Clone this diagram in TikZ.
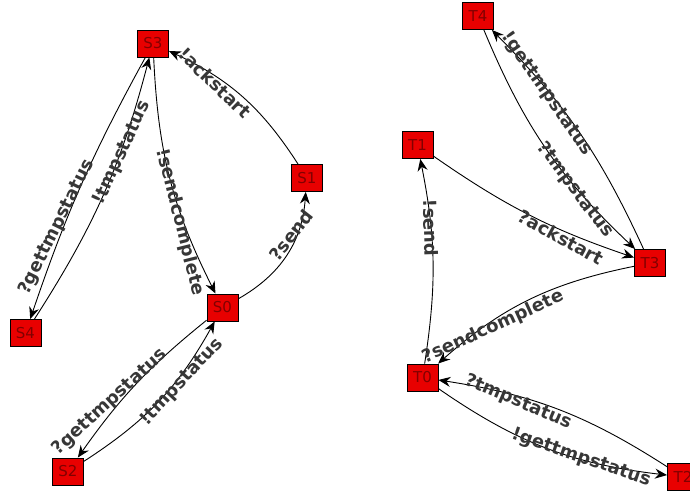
\documentclass[tikz,border=0pt]{standalone}
\usepackage{fontspec}
\setmainfont{DejaVu Sans}
\usetikzlibrary{arrows.meta}
\definecolor{nodefill}{RGB}{232,0,0}
\definecolor{nodetext}{RGB}{130,0,0}
\definecolor{lbltext}{RGB}{55,55,55}
\begin{document}
\begin{tikzpicture}[x=1pt,y=-1pt,
  state/.style={draw=black,line width=0.9pt,fill=nodefill,minimum width=31pt,minimum height=27pt,inner sep=0pt,text=nodetext,font=\fontsize{15}{15}\selectfont},
  lbl/.style={text=lbltext,font=\bfseries\fontsize{18}{18}\selectfont,inner sep=0pt},
  edge/.style={draw=black,line width=0.9pt,-{Stealth[length=12pt,width=10pt,inset=4pt]}}]
\useasboundingbox (0,0) rectangle (690,497);
% left machine
\node[state] (S3) at (153,43.5) {S3};
\node[state] (S1) at (307,178) {S1};
\node[state] (S0) at (222.5,307.5) {S0};
\node[state] (S4) at (25.5,333) {S4};
\node[state] (S2) at (68,471.5) {S2};
% right machine
\node[state] (T4) at (478,16) {T4};
\node[state] (T1) at (417.5,145) {T1};
\node[state] (T3) at (650,263) {T3};
\node[state] (T0) at (422.5,377.5) {T0};
\node[state] (T2) at (683,477) {T2};
% edges
\draw[edge] (S1) to[bend right=16] (S3);
\draw[edge] (S0) to[bend right=28] (S1);
\draw[edge] (S3) to[bend right=12] (S0);
\draw[edge] (S3) to[bend right=5] (S4);
\draw[edge] (S4) to[bend right=9] (S3);
\draw[edge] (S0) to[bend right=8] (S2);
\draw[edge] (S2) to[bend right=14] (S0);
\draw[edge] (T3) to[bend right=10] (T4);
\draw[edge] (T4) to[bend right=12] (T3);
\draw[edge] (T1) to[bend right=8] (T3);
\draw[edge] (T0) to[bend right=10] (T1);
\draw[edge] (T3) to[bend right=15] (T0);
\draw[edge] (T2) to[bend right=12] (T0);
\draw[edge] (T0) to[bend right=14] (T2);
% labels
\node[lbl,rotate=-44] (l1) at (215,83) {!ackstart};
\node[lbl,rotate=52] (l2) at (291,235) {?send};
\node[lbl,rotate=-76] (l3) at (180,222) {!sendcomplete};
\node[lbl,rotate=63.6] (l4) at (57,227) {?gettmpstatus};
\node[lbl,rotate=65] (l5) at (122,153) {!tmpstatus};
\node[lbl,rotate=42.5] (l6) at (110,402) {?gettmpstatus};
\node[lbl,rotate=47] (l7) at (182,382) {!tmpstatus};
\node[lbl,rotate=-55] (l8) at (547,94) {!gettmpstatus};
\node[lbl,rotate=-53] (l9) at (575,190) {?tmpstatus};
\node[lbl,rotate=-28.6] (l10) at (561,237) {?ackstart};
\node[lbl,rotate=-88] (l11) at (431,228) {!send};
\node[lbl,rotate=24.5] (l12) at (493,327) {?sendcomplete};
\node[lbl,rotate=-23] (l13) at (518,402) {?tmpstatus};
\node[lbl,rotate=-19] (l14) at (581,458) {!gettmpstatus};
\end{tikzpicture}
\end{document}
